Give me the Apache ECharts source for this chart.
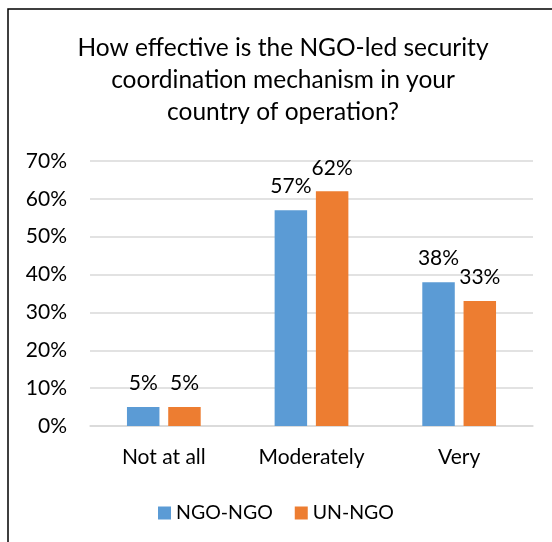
<!DOCTYPE html>
<html>
<head>
<meta charset="utf-8">
<script src="https://cdn.jsdelivr.net/npm/echarts@6/dist/echarts.min.js"></script>
<style>
  html, body { margin: 0; padding: 0; background: #ffffff; }
  #chart { width: 552px; height: 542px; }
</style>
</head>
<body>
<div id="chart"></div>
<script>
// Survey responses: effectiveness of NGO-led security coordination
const categories = ['Not at all', 'Moderately', 'Very'];
const ngoNgo = [5, 57, 38];
const unNgo = [5, 62, 33];
const yTicks = [0, 10, 20, 30, 40, 50, 60, 70];

const FONT = 'Lato';
const chart = echarts.init(document.getElementById('chart'), null, { renderer: 'canvas' });

const labelStyle = {
  show: true,
  position: 'top',
  distance: 13,
  formatter: p => p.value + '%',
  fontFamily: FONT,
  fontSize: 21,
  color: '#000000'
};

chart.setOption({
  animation: false,
  backgroundColor: '#ffffff',
  textStyle: { fontFamily: FONT },
  graphic: [{
    type: 'rect',
    shape: { x: 8, y: 9, width: 560, height: 560 },
    style: { fill: 'none', stroke: '#000000', lineWidth: 1.5 },
    silent: true,
    z: 10
  }],
  title: {
    text: 'How effective is the NGO-led security\ncoordination mechanism in your\ncountry of operation?',
    left: 278,
    textAlign: 'center',
    top: 27,
    textStyle: {
      fontFamily: FONT,
      fontSize: 24.5,
      fontWeight: 'normal',
      color: '#000000',
      lineHeight: 32
    }
  },
  legend: {
    data: ['NGO-NGO', 'UN-NGO'],
    left: 'center',
    top: 498,
    itemWidth: 13,
    itemHeight: 13,
    itemGap: 22,
    icon: 'rect',
    textStyle: { fontFamily: FONT, fontSize: 19.5, color: '#000000' }
  },
  grid: { left: 90, right: 19, top: 161, bottom: 116, containLabel: false },
  xAxis: {
    type: 'category',
    data: categories,
    axisLine: { show: true, lineStyle: { color: '#d9d9d9', width: 1.5 } },
    axisTick: { show: false },
    axisLabel: { fontFamily: FONT, fontSize: 21, color: '#000000', margin: 21 }
  },
  yAxis: {
    type: 'value',
    min: yTicks[0],
    max: yTicks[yTicks.length - 1],
    interval: 10,
    axisLine: { show: false },
    axisTick: { show: false },
    splitLine: { lineStyle: { color: '#d9d9d9', width: 1.5 } },
    axisLabel: {
      fontFamily: FONT, fontSize: 21, color: '#000000', margin: 23,
      formatter: v => v + '%'
    }
  },
  series: [
    {
      name: 'NGO-NGO',
      type: 'bar',
      data: ngoNgo,
      barWidth: '22%',
      barGap: '27%',
      itemStyle: { color: '#5b9bd5' },
      label: labelStyle
    },
    {
      name: 'UN-NGO',
      type: 'bar',
      data: unNgo,
      barWidth: '22%',
      barGap: '27%',
      itemStyle: { color: '#ed7d31' },
      label: labelStyle
    }
  ]
});
</script>
</body>
</html>
